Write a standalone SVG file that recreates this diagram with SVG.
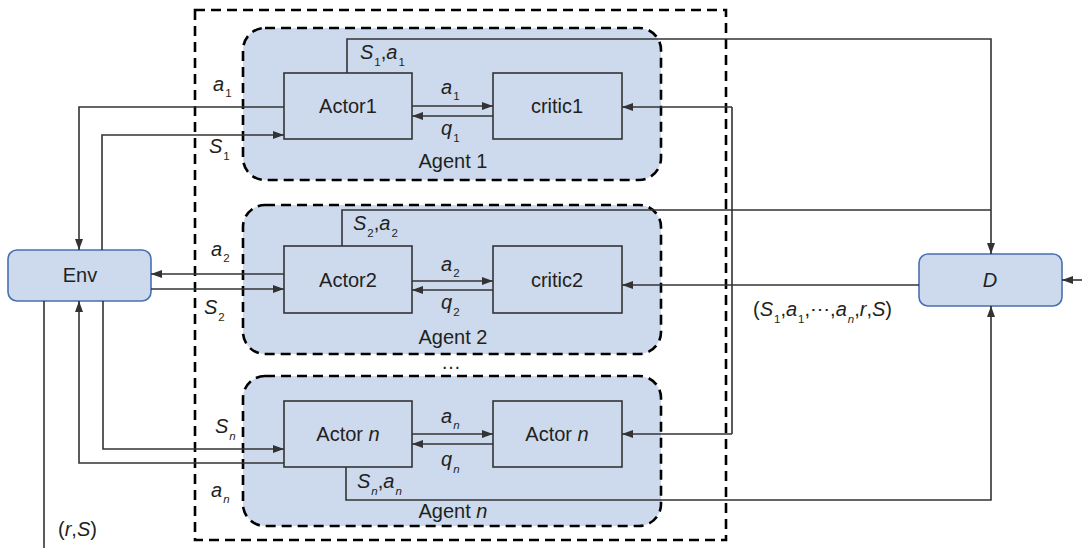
<svg xmlns="http://www.w3.org/2000/svg" width="1082" height="548" viewBox="0 0 1082 548">
  <defs>
    <style>
      .t { font-family: "Liberation Sans", Arial, sans-serif; font-size: 20px; fill: #231f20; }
      .m { text-anchor: middle; }
      .i { font-style: italic; }
      .s { font-size: 11.5px; }
      .dash { fill: none; stroke: #000; stroke-width: 2.6; stroke-dasharray: 10 6; }
      .agent { fill: #cddaed; stroke: #000; stroke-width: 2.6; stroke-dasharray: 10 6; }
      .box { fill: none; stroke: #333; stroke-width: 1.6; }
      .term { fill: #cddaed; stroke: #4a6fb0; stroke-width: 1.6; }
      .ln { fill: none; stroke: #333; stroke-width: 1.6; }
      .ar { marker-end: url(#head); }
    </style>
    <marker id="head" markerUnits="userSpaceOnUse" markerWidth="11" markerHeight="8" refX="11" refY="4" orient="auto">
      <path d="M0,0 L11,4 L0,8 z" fill="#333"/>
    </marker>
  </defs>

  <rect width="1082" height="548" fill="#fff"/>

  <!-- outer system boundary -->
  <rect id="system" class="dash" x="195" y="10" width="531" height="530"/>

  <!-- agent containers -->
  <g id="agent1">
    <rect class="agent" x="243" y="28" width="418" height="152" rx="22"/>
    <text class="t m" x="453" y="168">Agent 1</text>
  </g>
  <g id="agent2">
    <rect class="agent" x="243" y="205" width="418" height="149" rx="22"/>
    <text class="t m" x="453" y="344">Agent 2</text>
  </g>
  <g id="agentn">
    <rect class="agent" x="243" y="376" width="418" height="150" rx="22"/>
    <text class="t m" x="453" y="518">Agent <tspan class="i">n</tspan></text>
  </g>
  <text class="t m" x="451" y="369">…</text>

  <!-- actor / critic boxes -->
  <g id="actor1">
    <rect class="box" x="284" y="73" width="128" height="66"/>
    <text class="t m" x="348" y="113">Actor1</text>
  </g>
  <g id="critic1">
    <rect class="box" x="493" y="73" width="129" height="66"/>
    <text class="t m" x="557" y="113">critic1</text>
  </g>
  <g id="actor2">
    <rect class="box" x="284" y="246" width="128" height="67"/>
    <text class="t m" x="348" y="287">Actor2</text>
  </g>
  <g id="critic2">
    <rect class="box" x="493" y="246" width="129" height="67"/>
    <text class="t m" x="557" y="287">critic2</text>
  </g>
  <g id="actorn">
    <rect class="box" x="284" y="401" width="128" height="66"/>
    <text class="t m" x="348" y="441">Actor <tspan class="i">n</tspan></text>
  </g>
  <g id="criticn">
    <rect class="box" x="493" y="401" width="129" height="66"/>
    <text class="t m" x="557" y="441">Actor <tspan class="i">n</tspan></text>
  </g>

  <!-- environment and discriminator -->
  <g id="env">
    <rect class="term" x="8" y="250" width="143" height="51" rx="9"/>
    <text class="t m" x="80" y="282">Env</text>
  </g>
  <g id="disc">
    <rect class="term" x="919" y="254" width="143" height="52" rx="9"/>
    <text class="t m i" x="990" y="287">D</text>
  </g>

  <!-- connectors -->
  <g id="connectors">
    <path class="ln ar" d="M284,107 H79 V250"/>
    <path class="ln ar" d="M102,250 V135 H284"/>
    <path class="ln ar" d="M284,274 H151"/>
    <path class="ln ar" d="M151,289 H284"/>
    <path class="ln ar" d="M103,301 V449 H284"/>
    <path class="ln ar" d="M284,463 H79 V301"/>
    <path class="ln" d="M44,301 V548"/>

    <path class="ln ar" d="M347,73 V39 H991 V254"/>
    <path class="ln" d="M342,246 V210 H991"/>
    <path class="ln ar" d="M346,467 V500 H991 V306"/>

    <path class="ln ar" d="M919,285 H622"/>
    <path class="ln" d="M732,107 V434"/>
    <path class="ln ar" d="M732,107 H622"/>
    <path class="ln ar" d="M732,434 H622"/>
    <path class="ln ar" d="M1082,280 H1062"/>

    <path class="ln ar" d="M412,106 H493"/>
    <path class="ln ar" d="M493,116 H412"/>
    <path class="ln ar" d="M412,281 H493"/>
    <path class="ln ar" d="M493,290 H412"/>
    <path class="ln ar" d="M412,434 H493"/>
    <path class="ln ar" d="M493,444 H412"/>
  </g>

  <!-- signal labels -->
  <g id="labels">
    <text class="t" x="213" y="91"><tspan class="i">a</tspan><tspan class="s" dx="1" dy="6">1</tspan></text>
    <text class="t" x="209" y="153"><tspan class="i">S</tspan><tspan class="s" dx="1" dy="7">1</tspan></text>
    <text class="t" x="211" y="256"><tspan class="i">a</tspan><tspan class="s" dx="1" dy="6">2</tspan></text>
    <text class="t" x="204" y="314"><tspan class="i">S</tspan><tspan class="s" dx="1" dy="7">2</tspan></text>
    <text class="t" x="215" y="433"><tspan class="i">S</tspan><tspan class="s i" dx="1" dy="7">n</tspan></text>
    <text class="t" x="211" y="497"><tspan class="i">a</tspan><tspan class="s i" dx="1" dy="6">n</tspan></text>
    <text class="t" x="58" y="536">(<tspan class="i">r</tspan>,<tspan class="i">S</tspan>)</text>

    <text class="t" x="360" y="59"><tspan class="i">S</tspan><tspan class="s" dx="1" dy="7">1</tspan><tspan dy="-7">,</tspan><tspan class="i">a</tspan><tspan class="s" dx="1" dy="7">1</tspan></text>
    <text class="t" x="353" y="230"><tspan class="i">S</tspan><tspan class="s" dx="1" dy="7">2</tspan><tspan dy="-7">,</tspan><tspan class="i">a</tspan><tspan class="s" dx="1" dy="7">2</tspan></text>
    <text class="t" x="357" y="488"><tspan class="i">S</tspan><tspan class="s i" dx="1" dy="7">n</tspan><tspan dy="-7">,</tspan><tspan class="i">a</tspan><tspan class="s i" dx="1" dy="7">n</tspan></text>

    <text class="t" x="441" y="94"><tspan class="i">a</tspan><tspan class="s" dx="1" dy="6">1</tspan></text>
    <text class="t" x="441" y="135"><tspan class="i">q</tspan><tspan class="s" dx="1" dy="7">1</tspan></text>
    <text class="t" x="441" y="271"><tspan class="i">a</tspan><tspan class="s" dx="1" dy="6">2</tspan></text>
    <text class="t" x="441" y="309"><tspan class="i">q</tspan><tspan class="s" dx="1" dy="7">2</tspan></text>
    <text class="t" x="441" y="423"><tspan class="i">a</tspan><tspan class="s i" dx="1" dy="6">n</tspan></text>
    <text class="t" x="441" y="466"><tspan class="i">q</tspan><tspan class="s i" dx="1" dy="7">n</tspan></text>

    <text class="t" x="753" y="316">(<tspan class="i">S</tspan><tspan class="s" dx="1" dy="7">1</tspan><tspan dy="-7">,</tspan><tspan class="i">a</tspan><tspan class="s" dx="1" dy="7">1</tspan><tspan dy="-7">,⋯,</tspan><tspan class="i">a</tspan><tspan class="s i" dx="1" dy="7">n</tspan><tspan dy="-7">,</tspan><tspan class="i">r</tspan>,<tspan class="i">S</tspan>)</text>
  </g>
</svg>
